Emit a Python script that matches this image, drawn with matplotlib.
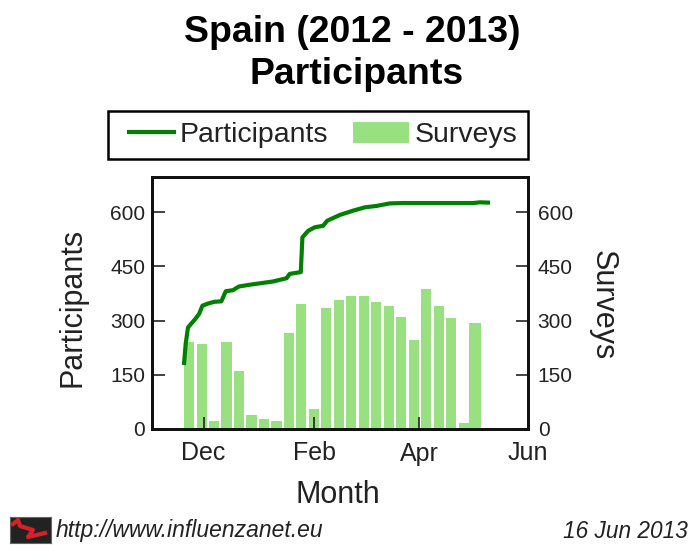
import matplotlib
matplotlib.use('Agg')
import matplotlib.pyplot as plt
import pandas as pd
from matplotlib.legend_handler import HandlerLine2D
from matplotlib.lines import Line2D
from matplotlib.patches import Patch

plt.rcParams['font.family'] = ['Liberation Sans', 'DejaVu Sans']

START = pd.Timestamp('2012-12-01')

# participants, days counted from 1 Dec 2012
line_days = [-11.1, -10.1, -8.8, -5.1, -2.6, -0.7, 2.4, 6.2, 9.9, 12.4, 16.5, 19.7, 25.8,
             38.9, 46.5, 48.3, 54.5, 55.4, 58.6, 62.4, 67, 69.3, 76.4, 83.9, 90.4, 97,
             104.5, 112, 132.6, 151.3, 155, 160.7]
participants = [177, 235, 281, 302, 318, 341, 347, 352, 353, 381, 384, 394, 399,
                408, 417, 429, 434, 530, 548, 558, 562, 576, 592, 604, 613, 617,
                624, 625, 625, 625, 627, 626]

# surveys per week
bar_days = [-11, -4, 3, 10, 17, 24, 31, 38, 45, 52, 59, 66, 73, 80, 87, 94, 101, 108,
            115, 122, 129, 136, 143, 148.7]
bar_widths = [5.7] * 23 + [6.7]
surveys = [241, 236, 21, 241, 160, 39, 28, 21, 265, 345, 56, 334, 357, 369, 369, 351,
           340, 311, 246, 386, 340, 306, 16, 294]

tick_dates = ['2012-12-01', '2013-02-01', '2013-04-01', '2013-06-01']
tick_labels = ['Dec', 'Feb', 'Apr', 'Jun']
y_ticks = [0, 150, 300, 450, 600]

W, H = 689, 545
fig = plt.figure(figsize=(W / 100, H / 100), dpi=100)
ax = fig.add_axes([152 / W, 1 - 429 / H, 376 / W, 252 / H])
ax2 = ax.twinx()

line_x = START + pd.to_timedelta(line_days, unit='D')
bar_x = START + pd.to_timedelta(bar_days, unit='D')
width = pd.to_timedelta(bar_widths, unit='D')

ax2.bar(bar_x, surveys, width=width, align='edge', color='#98e080', linewidth=0)
ax.plot(line_x, participants, color='#008000', lw=3, solid_capstyle='butt', solid_joinstyle='round')
ax.set_zorder(ax2.get_zorder() + 1)
ax.patch.set_visible(False)
ax2.patch.set_facecolor('white')

for a in (ax, ax2):
    a.set_xlim(pd.Timestamp('2012-11-02'), pd.Timestamp('2013-06-01'))
    a.set_ylim(0, 697)
    a.set_yticks(y_ticks)
    a.tick_params(axis='y', direction='in', length=9, width=1.2, labelsize=15, pad=5, colors='#222222')
    for s in a.spines.values():
        s.set_linewidth(2)
        s.set_color('#111111')
ax2.tick_params(axis='y', pad=7)
ax.set_xticks(pd.to_datetime(tick_dates))
ax.set_xticklabels(tick_labels)
ax.tick_params(axis='x', direction='in', length=9, width=1.2, labelsize=18, pad=9, colors='#222222')

fig.text(338 / W, 1 - 495 / H, 'Month', fontsize=22, ha='center', va='center', color='#222222')
fig.text(73 / W, 1 - 307 / H, 'Participants', fontsize=22, rotation=90, ha='center', va='center', color='#222222')
fig.text(603 / W, 1 - 305 / H, 'Surveys', fontsize=22, rotation=270, ha='center', va='center', color='#222222')

fig.text(352 / W, 1 - 32 / H, 'Spain (2012 - 2013)', fontsize=26.9, fontweight='bold', ha='center', va='center')
fig.text(357 / W, 1 - 74 / H, 'Participants', fontsize=26.9, fontweight='bold', ha='center', va='center')

handles = [Line2D([], [], color='#008000', lw=3), Patch(color='#98e080', lw=0)]
leg = fig.legend(handles, ['Participants', 'Surveys'], ncol=2, fontsize=20.5, frameon=True,
                 fancybox=False, edgecolor='black', framealpha=1, loc='center',
                 bbox_to_anchor=(318 / W, 1 - 135 / H), handlelength=1.96, handleheight=0.8,
                 columnspacing=0.88, handletextpad=0.2, borderpad=0.37, labelcolor='#222222',
                 handler_map={Line2D: HandlerLine2D(xpad=0.38)})
leg.get_frame().set_linewidth(1.8)

# influenzanet logo
logo = fig.add_axes([10 / W, 1 - 543 / H, 41 / W, 26 / H])
logo.set_facecolor('#222222')
logo.set_xlim(0, 41)
logo.set_ylim(26, 0)
logo.set_xticks([])
logo.set_yticks([])
for s in logo.spines.values():
    s.set_linewidth(0.8)
    s.set_color('#666666')
logo.plot([3, 8, 10, 23, 18, 35], [7, 3, 9, 13, 20, 16], color='#d8202a', lw=3)

fig.text(56 / W, 1 - 531 / H, 'http://www.influenzanet.eu', fontsize=16.5, style='italic', va='center', color='#222222')
fig.text(688 / W, 1 - 531 / H, '16 Jun 2013', fontsize=16.3, style='italic', va='center', ha='right', color='#222222')

fig.savefig('out.png', dpi=100)
